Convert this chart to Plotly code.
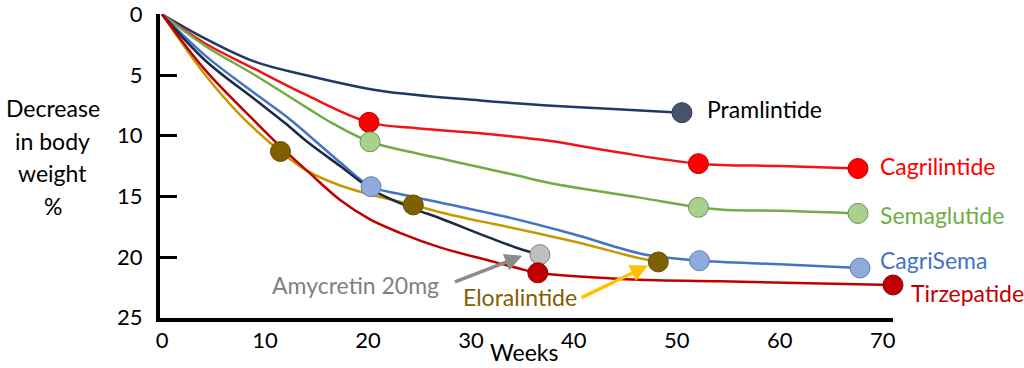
import plotly.graph_objects as go

# ---- data (weeks, % decrease) ----
pram_x = [0, 4.2, 9.0, 13.9, 21.2, 30.9, 37.4, 43.8, 50.5]
pram_y = [0, 2.0, 3.9, 5.0, 6.3, 7.1, 7.5, 7.8, 8.1]
pram_mx = [50.5]
pram_my = [8.1]

cagri_x = [0, 4.2, 9.0, 13.9, 20.1, 25, 30.9, 37.4, 43.8, 52.1, 60, 67.6]
cagri_y = [0, 2.4, 4.5, 6.6, 8.9, 9.4, 9.8, 10.4, 11.3, 12.3, 12.5, 12.7]
cagri_mx = [20.1, 52.1, 67.6]
cagri_my = [8.9, 12.3, 12.7]

sema_x = [0, 4.2, 9.0, 13.9, 16.6, 20.2, 25, 27.7, 34.1, 38.3, 46.4, 52.1, 54.5, 61, 67.6]
sema_y = [0, 2.6, 5.0, 7.6, 9.0, 10.5, 11.5, 12.0, 13.2, 14.0, 15.1, 15.9, 16.1, 16.2, 16.4]
sema_mx = [20.2, 52.1, 67.6]
sema_my = [10.5, 15.9, 16.4]

cs_x = [0, 4.2, 9.0, 12.2, 17.3, 20.3, 23.1, 27.0, 33.5, 39.9, 46.4, 49.6, 52.2, 60, 67.8]
cs_y = [0, 3.4, 6.5, 8.5, 12.2, 14.2, 14.8, 15.5, 16.7, 18.1, 19.7, 20.1, 20.3, 20.6, 20.9]
cs_mx = [20.3, 52.2, 67.8]
cs_my = [14.2, 20.3, 20.9]

tirz_x = [0, 4.2, 9.0, 11.5, 14.1, 17.3, 20.2, 23.1, 27.0, 31.8, 34.5, 36.5, 44.5, 54.2, 71]
tirz_y = [0, 4.6, 8.8, 10.9, 12.9, 15.3, 16.9, 18.0, 19.2, 20.3, 20.9, 21.3, 21.8, 22.0, 22.3]
tirz_mx = [36.5, 71]
tirz_my = [21.3, 22.3]

elor_x = [0, 4.2, 7.6, 11.5, 14.1, 17.3, 20.5, 24.4, 27.0, 31.2, 33.5, 39.9, 46.4, 48.2]
elor_y = [0, 5.0, 8.3, 11.3, 12.9, 14.1, 14.9, 15.7, 16.3, 17.1, 17.5, 18.7, 20.1, 20.4]
elor_mx = [11.5, 24.4, 48.2]
elor_my = [11.3, 15.7, 20.4]

amy_x = [0, 4.2, 9.0, 12.0, 14.1, 17.3, 20.5, 24.4, 27.0, 31.8, 35.0, 36.7]
amy_y = [0, 3.8, 7.0, 9.0, 10.5, 12.5, 14.5, 16.0, 16.8, 18.4, 19.4, 19.8]
amy_mx = [36.7]
amy_my = [19.8]

x_ticks = [0, 10, 20, 30, 40, 50, 60, 70]
y_ticks = [0, 5, 10, 15, 20, 25]

FONT = "Lato"
FS = 23
TFS = 22

series = [
    # x, y, mx, my, line colour, marker fill, marker edge, marker size
    (pram_x, pram_y, pram_mx, pram_my, "#1f3864", "#44546a", "#2f3b4e", 20),
    (cagri_x, cagri_y, cagri_mx, cagri_my, "#f01414", "#ff0000", "#c00000", 20),
    (sema_x, sema_y, sema_mx, sema_my, "#70ad47", "#a9d18e", "#6f8f5f", 20),
    (cs_x, cs_y, cs_mx, cs_my, "#4472c4", "#8faadc", "#5f7fb0", 20),
    (elor_x, elor_y, elor_mx, elor_my, "#c49a00", "#7f6000", "#6a5000", 20),
    (amy_x, amy_y, amy_mx, amy_my, "#1c2a46", "#bfbfbf", "#7f7f7f", 20),
    (tirz_x, tirz_y, tirz_mx, tirz_my, "#c00000", "#c00000", "#900000", 20),
]

fig = go.Figure()
for sx, sy, mx, my, lc, mf, me, ms in series:
    fig.add_trace(go.Scatter(x=sx, y=sy, mode="lines",
                             line=dict(color=lc, width=2.5, shape="spline", smoothing=1.0),
                             cliponaxis=False, showlegend=False, hoverinfo="skip"))
for sx, sy, mx, my, lc, mf, me, ms in series:
    fig.add_trace(go.Scatter(x=mx, y=my, mode="markers",
                             marker=dict(size=ms, color=mf, line=dict(color=me, width=1)),
                             cliponaxis=False, showlegend=False, hoverinfo="skip"))

fig.update_layout(
    width=1024, height=368,
    margin=dict(l=160, r=131, t=14, b=50),
    paper_bgcolor="white", plot_bgcolor="white",
    font=dict(family=FONT, size=FS, color="black"),
    showlegend=False,
)
fig.update_xaxes(range=[-0.2, 71.0], showgrid=False, zeroline=False, automargin=False,
                 showline=True, linecolor="black", linewidth=4,
                 tickvals=x_ticks, ticktext=[str(v) for v in x_ticks],
                 ticks="", ticklabelstandoff=0,
                 tickfont=dict(family=FONT, size=TFS, color="black"))
fig.update_yaxes(range=[25.02, -0.03], showgrid=False, zeroline=False, automargin=False,
                 showline=True, linecolor="black", linewidth=4,
                 tickvals=y_ticks, ticktext=[str(v) for v in y_ticks],
                 ticks="", ticklabelstandoff=9, ticklabeloverflow="allow",
                 minor=dict(tickmode="array", tickvals=[5, 10, 15, 20], ticks="inside",
                            ticklen=17, tickwidth=3, tickcolor="black"),
                 tickfont=dict(family=FONT, size=TFS, color="black"))

# y-axis title lines
for txt, yy in [("Decrease", 7.7), ("in body", 10.4), ("weight", 13.1), ("%", 15.8)]:
    fig.add_annotation(text=txt, xref="paper", yref="y", x=-0.146, y=yy,
                       showarrow=False, xanchor="center", yanchor="middle",
                       font=dict(family=FONT, size=FS, color="black"))
fig.add_annotation(text="Weeks", xref="x", yref="paper", x=35.2, y=-0.113,
                   showarrow=False, xanchor="center", yanchor="middle",
                   font=dict(family=FONT, size=FS, color="black"))

# series labels (data coords)
labels = [
    ("Pramlintide", 52.7, 7.8, "black"),
    ("Cagrilintide", 69.5, 12.5, "#ff0000"),
    ("Semaglutide", 69.5, 16.5, "#70ad47"),
    ("CagriSema", 69.5, 20.2, "#4472c4"),
    ("Amycretin 20mg", 10.5, 22.3, "#7f7f7f"),
    ("Eloralintide", 29.0, 23.3, "#806000"),
]
for txt, lx, ly, col in labels:
    fig.add_annotation(text=txt, x=lx, y=ly, xref="x", yref="y", showarrow=False,
                       xanchor="left", yanchor="middle",
                       font=dict(family=FONT, size=FS, color=col))
# Tirzepatide label sits right of the axis end
fig.add_annotation(text="Tirzepatide", x=1.022, y=23.0, xref="paper", yref="y",
                   showarrow=False, xanchor="left", yanchor="middle",
                   font=dict(family=FONT, size=FS, color="#c00000"))

# arrows
fig.add_annotation(text="", x=35.0, y=19.9, ax=28.3, ay=22.1, axref="x", ayref="y",
                   xref="x", yref="y", showarrow=True, arrowhead=2, arrowsize=1,
                   arrowwidth=3.5, arrowcolor="#8c8c8c")
fig.add_annotation(text="", x=47.2, y=20.7, ax=40.6, ay=23.4, axref="x", ayref="y",
                   xref="x", yref="y", showarrow=True, arrowhead=2, arrowsize=1,
                   arrowwidth=3.5, arrowcolor="#ffc000")

fig.write_html("out.html")
